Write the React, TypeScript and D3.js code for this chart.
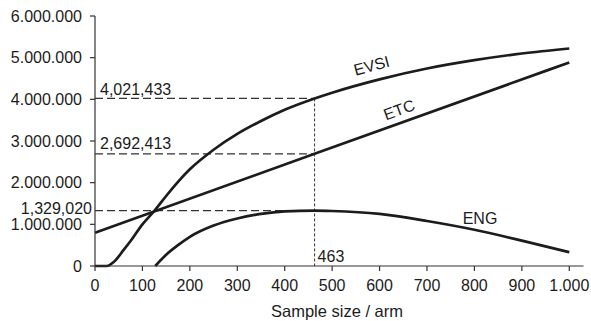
import React from "react";
import * as d3 from "d3";

// sample size per arm (x) and values
const evsiN = [0, 25, 40, 60, 75, 100, 125, 150, 175, 200, 250, 300, 350, 400, 463, 500, 600, 700, 800, 900, 1000];
const evsiV = [0, 0, 100000, 380000, 600000, 1000000, 1320000, 1680000, 2020000, 2320000, 2790000, 3170000, 3480000, 3750000, 4021433, 4160000, 4480000, 4740000, 4940000, 5100000, 5220000];

const etcN = [0, 463, 1000];
const etcV = [800000, 2692413, 4885000];

const engN = [127, 150, 175, 200, 250, 300, 350, 400, 463, 500, 600, 700, 800, 900, 1000];
const engV = [0, 270000, 500000, 700000, 970000, 1140000, 1250000, 1310000, 1329020, 1320000, 1250000, 1080000, 870000, 610000, 330000];

const xTicks = [0, 100, 200, 300, 400, 500, 600, 700, 800, 900, 1000];
const yTicks = [0, 1000000, 2000000, 3000000, 4000000, 5000000, 6000000];

const optimumN = 463;
const refLines = [
  { value: 4021433, label: "4,021,433" },
  { value: 2692413, label: "2,692,413" },
  { value: 1329020, label: "1,329,020" },
];

const W = 591, H = 321;
const font = "'Liberation Sans', Arial, sans-serif";
const ink = "#1c1c1c";

// European style thousands: 1.000.000
const fmt = (v: number) => d3.format(",")(v).replace(/,/g, ".");

export default function App() {
  const x = d3.scaleLinear().domain([0, 1030]).range([95, 583.5]);
  const y = d3.scaleLinear().domain([0, 6000000]).range([266, 16]);

  const line = d3.line<[number, number]>()
    .x(d => x(d[0]))
    .y(d => y(d[1]))
    .curve(d3.curveMonotoneX);

  const evsi = line(evsiN.map((n, i) => [n, evsiV[i]]))!;
  const etc = line(etcN.map((n, i) => [n, etcV[i]]))!;
  const eng = line(engN.map((n, i) => [n, engV[i]]))!;

  const xo = x(optimumN);

  return (
    <svg width={W} height={H} style={{ position: "absolute", left: 0, top: 0, background: "#fff" }}
      fontFamily={font}>
      {/* reference lines */}
      {refLines.map(r => (
        <line key={r.label} x1={x(0)} x2={xo} y1={y(r.value)} y2={y(r.value)}
          stroke="#333" strokeWidth={1.3} strokeDasharray="8,4" />
      ))}
      <line x1={xo} x2={xo} y1={y(refLines[0].value)} y2={y(0)}
        stroke="#333" strokeWidth={1} strokeDasharray="3,2" />
      <text x={x(0) + 5} y={y(refLines[0].value) - 3.5} fontSize={16} fill={ink}>{refLines[0].label}</text>
      <text x={x(0) + 5} y={y(refLines[1].value) - 5} fontSize={16} fill={ink}>{refLines[1].label}</text>
      <text x={x(0) - 3} y={y(refLines[2].value) + 3.5} fontSize={16} fill={ink} textAnchor="end">{refLines[2].label}</text>
      <text x={xo + 3} y={261.5} fontSize={16} fill={ink}>{optimumN}</text>

      {/* curves */}
      <path d={evsi} fill="none" stroke={ink} strokeWidth={2.7} />
      <path d={etc} fill="none" stroke={ink} strokeWidth={2.7} />
      <path d={eng} fill="none" stroke={ink} strokeWidth={2.7} />

      <text transform={`translate(373,71) rotate(-15)`} fontSize={16} fill={ink} textAnchor="middle">EVSI</text>
      <text transform={`translate(401,115) rotate(-20)`} fontSize={16} fill={ink} textAnchor="middle">ETC</text>
      <text x={480} y={224} fontSize={16} fill={ink} textAnchor="middle">ENG</text>

      {/* y axis */}
      <line x1={x(0)} x2={x(0)} y1={y(6000000)} y2={y(0)} stroke="#333" strokeWidth={1.2} />
      {yTicks.map(t => (
        <g key={t} transform={`translate(0,${y(t)})`}>
          <line x1={x(0) - 5} x2={x(0)} stroke="#333" strokeWidth={1.2} />
          <text x={x(0) - 13} dy="0.35em" fontSize={16} fill={ink} textAnchor="end">{fmt(t)}</text>
        </g>
      ))}

      {/* x axis */}
      <line x1={x(0)} x2={x(1030)} y1={y(0)} y2={y(0)} stroke="#333" strokeWidth={1.2} />
      {xTicks.map(t => (
        <g key={t} transform={`translate(${x(t)},0)`}>
          <line y1={y(0)} y2={y(0) + 5} stroke="#333" strokeWidth={1.2} />
          <text y={291} fontSize={16} fill={ink} textAnchor="middle">{fmt(t)}</text>
        </g>
      ))}
      <text x={337} y={316.5} fontSize={16.5} fill={ink} textAnchor="middle">Sample size / arm</text>
    </svg>
  );
}
